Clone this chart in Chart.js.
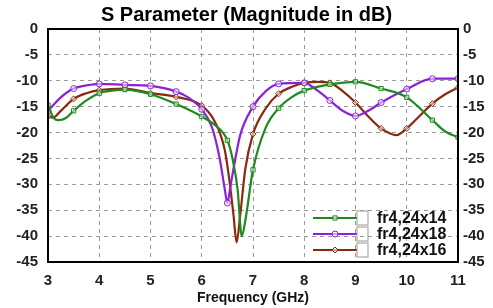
<!DOCTYPE html>
<html>
<head>
<meta charset="utf-8">
<script src="https://cdn.jsdelivr.net/npm/chart.js@4.4.1/dist/chart.umd.min.js"></script>
<style>
  html, body { margin: 0; padding: 0; background: #fff; }
  #wrap { width: 493px; height: 308px; }
</style>
</head>
<body>
<div id="wrap"><canvas id="sparam"></canvas></div>
<script>
// ---------------- data ----------------
var seriesNames = ['fr4,24x14', 'fr4,24x18', 'fr4,24x16'];
var xTicks = [3, 4, 5, 6, 7, 8, 9, 10, 11];
var yTicks = [0, -5, -10, -15, -20, -25, -30, -35, -40, -45];

var freq14 = [3.0, 3.1, 3.2, 3.35, 3.5, 3.75, 4.0, 4.25, 4.5, 5.0, 5.5, 6.0, 6.25, 6.5, 6.6, 6.7, 6.78, 6.85, 7.0, 7.25, 7.5, 7.75, 8.0, 8.5, 9.0, 9.5, 10.0, 10.5, 10.75, 11.0];
var db14   = [-14.7, -17, -17.6, -17.2, -15.8, -13.8, -12.4, -11.9, -11.7, -12.6, -14.5, -16.9, -18.5, -21.5, -25, -31, -40, -37, -27.2, -19, -15.3, -13.2, -11.9, -10.7, -10.2, -11.5, -13.2, -17.6, -19.8, -20.9];

var freq18 = [3.0, 3.25, 3.5, 3.75, 4.0, 4.5, 5.0, 5.5, 5.75, 6.0, 6.2, 6.35, 6.45, 6.5, 6.55, 6.62, 6.75, 7.0, 7.25, 7.5, 8.0, 8.25, 8.5, 8.75, 9.0, 9.25, 9.5, 10.0, 10.5, 11.0];
var db18   = [-15.8, -13.2, -11.5, -10.9, -10.6, -10.8, -11.0, -12.1, -13.3, -15.5, -19, -25, -31, -33.6, -31, -27, -20.5, -15, -12, -10.6, -10.4, -11.8, -13.8, -15.8, -16.8, -15.8, -14.2, -11.6, -9.6, -9.6];

var freq16 = [3.0, 3.1, 3.25, 3.5, 3.75, 4.0, 4.5, 5.0, 5.5, 6.0, 6.25, 6.45, 6.55, 6.62, 6.68, 6.75, 6.85, 7.0, 7.25, 7.5, 7.75, 8.0, 8.25, 8.5, 8.75, 9.0, 9.25, 9.5, 9.8, 10.0, 10.25, 10.5, 10.75, 11.0];
var db16   = [-16.9, -17.1, -15.8, -13.5, -12.4, -11.8, -11.5, -12.4, -13.1, -14.8, -17.8, -23.4, -30, -36, -41.2, -36, -27, -20.3, -15.3, -12.5, -11.2, -10.4, -10.2, -10.4, -12, -14.2, -16.9, -19.2, -20.5, -19.2, -16.8, -14.4, -12.6, -11.3];

var colors = ['#1f8a1f', '#8a22d6', '#8a2a0c'];
var markers = ['rect', 'circle', 'rectRot'];

function toPoints(fs, vs) {
    return fs.map(function (f, i) { return { x: f, y: vs[i] }; });
}

// markers only on the half-GHz steps
function markerRadius(ctx) {
    var x = ctx.raw ? ctx.raw.x : 0;
    return Math.abs(x * 2 - Math.round(x * 2)) < 1e-6 ? 3 : 0;
}

function makeSet(i, fs, vs) {
    return {
        label: seriesNames[i],
        data: toPoints(fs, vs),
        borderColor: colors[i],
        backgroundColor: colors[i],
        borderWidth: 2.2,
        pointStyle: markers[i],
        pointRadius: markerRadius,
        pointBorderWidth: 1,
        pointBackgroundColor: 'rgba(255,255,255,0.5)',
        pointBorderColor: colors[i],
        tension: 0.4,
        cubicInterpolationMode: 'monotone'
    };
}

// ---------------- box + legend inside plot ----------------
var boxLegend = {
    id: 'boxLegend',
    afterDraw: function (chart) {
        var c = chart.ctx, a = chart.chartArea;
        c.save();
        c.strokeStyle = '#000';
        c.lineWidth = 2;
        c.strokeRect(a.left, a.top, a.right - a.left, a.bottom - a.top);

        var x0 = a.right - 145;
        chart.data.datasets.forEach(function (ds, i) {
            var y = a.bottom - 44 + i * 16;
            c.strokeStyle = ds.borderColor;
            c.lineWidth = 2.2;
            c.beginPath();
            c.moveTo(x0, y);
            c.lineTo(x0 + 44, y);
            c.stroke();
            c.fillStyle = 'rgba(255,255,255,0.6)';
            c.lineWidth = 1;
            Chart.helpers.drawPoint(c, { pointStyle: ds.pointStyle, radius: 3, borderWidth: 1 }, x0 + 22, y);
            c.strokeStyle = '#999';
            c.lineWidth = 1;
            c.strokeRect(x0 + 44, y - 7, 11, 14);
            c.fillStyle = '#111';
            c.font = 'bold 16px "Liberation Sans", Arial, sans-serif';
            c.textBaseline = 'middle';
            c.textAlign = 'left';
            c.fillText(ds.label, x0 + 64, y + 1);
        });
        c.restore();
    }
};

const CHART = document.getElementById('sparam');
var tickFont = { family: '"Liberation Sans", Arial, sans-serif', size: 15, weight: 'bold' };

let lineChart = new Chart(CHART, {
    type: 'line',
    data: {
        datasets: [
            makeSet(0, freq14, db14),
            makeSet(1, freq18, db18),
            makeSet(2, freq16, db16)
        ]
    },
    options: {
        responsive: true,
        maintainAspectRatio: false,
        animation: false,
        layout: { padding: 0 },
        plugins: {
            legend: { display: false },
            tooltip: { enabled: false },
            title: {
                display: true,
                text: 'S Parameter (Magnitude in dB)',
                color: '#000',
                font: { family: '"Liberation Sans", Arial, sans-serif', size: 20, weight: 'bold' },
                padding: { top: 3, bottom: 2 }
            }
        },
        scales: {
            x: {
                type: 'linear',
                min: 3, max: 11,
                afterBuildTicks: function (s) { s.ticks = xTicks.map(function (v) { return { value: v }; }); },
                afterFit: function (s) { s.height = 46; },
                ticks: { color: '#222', font: tickFont, padding: 10 },
                grid: { color: '#9a9a9a', drawTicks: false },
                border: { display: false, dash: [4, 4] },
                title: {
                    display: true,
                    text: 'Frequency (GHz)',
                    color: '#111',
                    font: { family: '"Liberation Sans", Arial, sans-serif', size: 14, weight: 'bold' },
                    padding: { top: 0, bottom: 1 }
                }
            },
            y: {
                position: 'left',
                min: -45, max: 0,
                afterBuildTicks: function (s) { s.ticks = yTicks.map(function (v) { return { value: v }; }); },
                afterFit: function (s) { s.width = 48; },
                ticks: { color: '#222', font: tickFont, padding: 10 },
                grid: { color: '#9a9a9a', drawTicks: false },
                border: { display: false, dash: [4, 4] }
            },
            y2: {
                position: 'right',
                min: -45, max: 0,
                afterBuildTicks: function (s) { s.ticks = yTicks.map(function (v) { return { value: v }; }); },
                afterFit: function (s) { s.width = 35; },
                ticks: { color: '#222', font: tickFont, padding: 5 },
                grid: { display: false, drawTicks: false },
                border: { display: false }
            }
        }
    },
    plugins: [boxLegend]
});
</script>
</body>
</html>
